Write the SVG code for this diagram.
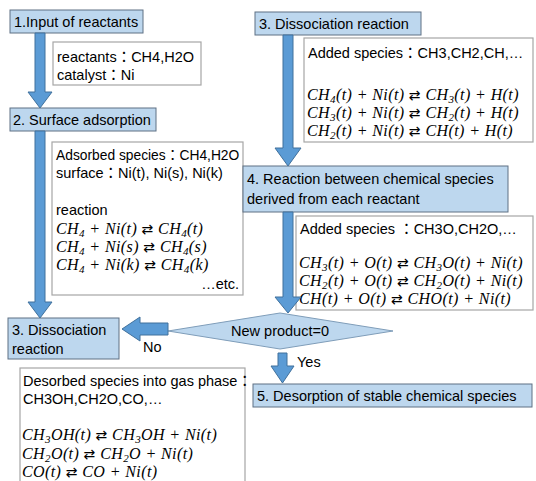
<svg xmlns="http://www.w3.org/2000/svg" width="536" height="481" viewBox="0 0 536 481">
<style>
.step{fill:#BDD7EE;stroke:#5F7184;stroke-width:1}
.info{fill:#FFFFFF;stroke:#A6A6A6;stroke-width:1.2}
.t{font-family:"Liberation Sans","Noto Sans CJK JP",sans-serif;font-size:14.5px;fill:#000}
.m{font-family:"Liberation Serif","DejaVu Serif",serif;font-style:italic;font-size:16px;letter-spacing:0.4px;fill:#000}
.s{font-size:11px}
.ar{font-family:"DejaVu Sans",sans-serif;font-style:normal;font-size:14px}
.arrow{fill:#5B9BD5;stroke:#41719C;stroke-width:1}
</style>
<rect width="536" height="481" fill="#FFFFFF"/>

<g id="step1">
<rect class="step" x="10" y="10" width="133" height="23"/>
<text class="t" x="14" y="27">1.Input of reactants</text>
</g>

<g id="info1">
<rect class="info" x="53" y="42" width="148" height="43"/>
<text class="t" x="57" y="62">reactants：CH4,H2O</text>
<text class="t" x="57" y="80">catalyst：Ni</text>
</g>

<g id="step2">
<rect class="step" x="10" y="108" width="146" height="23"/>
<text class="t" x="13" y="125">2. Surface adsorption</text>
</g>

<g id="info2">
<rect class="info" x="52" y="142" width="191" height="153"/>
<text class="t" x="56" y="160" style="font-size:13.8px">Adsorbed species：CH4,H2O</text>
<text class="t" x="56" y="178">surface：Ni(t), Ni(s), Ni(k)</text>
<text class="t" x="56" y="215">reaction</text>
<text class="m" x="56" y="234">CH<tspan class="s" dy="3">4</tspan><tspan dy="-3"> + Ni(t) </tspan><tspan class="ar">⇄</tspan> CH<tspan class="s" dy="3">4</tspan><tspan dy="-3">(t)</tspan></text>
<text class="m" x="56" y="252">CH<tspan class="s" dy="3">4</tspan><tspan dy="-3"> + Ni(s) </tspan><tspan class="ar">⇄</tspan> CH<tspan class="s" dy="3">4</tspan><tspan dy="-3">(s)</tspan></text>
<text class="m" x="56" y="270">CH<tspan class="s" dy="3">4</tspan><tspan dy="-3"> + Ni(k) </tspan><tspan class="ar">⇄</tspan> CH<tspan class="s" dy="3">4</tspan><tspan dy="-3">(k)</tspan></text>
<text class="t" x="239" y="289" text-anchor="end">…etc.</text>
</g>

<g id="step3a">
<rect class="step" x="255" y="12" width="166" height="23"/>
<text class="t" x="259" y="29">3. Dissociation reaction</text>
</g>

<g id="info3">
<rect class="info" x="304" y="38" width="229" height="104"/>
<text class="t" x="308" y="58">Added species：CH3,CH2,CH,…</text>
<text class="m" x="307" y="100">CH<tspan class="s" dy="3">4</tspan><tspan dy="-3">(t) + Ni(t) </tspan><tspan class="ar">⇄</tspan> CH<tspan class="s" dy="3">3</tspan><tspan dy="-3">(t) + H(t)</tspan></text>
<text class="m" x="307" y="118">CH<tspan class="s" dy="3">3</tspan><tspan dy="-3">(t) + Ni(t) </tspan><tspan class="ar">⇄</tspan> CH<tspan class="s" dy="3">2</tspan><tspan dy="-3">(t) + H(t)</tspan></text>
<text class="m" x="307" y="136">CH<tspan class="s" dy="3">2</tspan><tspan dy="-3">(t) + Ni(t) </tspan><tspan class="ar">⇄</tspan> CH(t) + H(t)</text>
</g>

<g id="step4">
<rect class="step" x="243" y="166" width="265" height="46"/>
<text class="t" x="247" y="184">4. Reaction between chemical species</text>
<text class="t" x="247" y="204">derived from each reactant</text>
</g>

<g id="info4">
<rect class="info" x="296" y="216" width="237" height="94"/>
<text class="t" x="300" y="234">Added species ：CH3O,CH2O,…</text>
<text class="m" x="299" y="268">CH<tspan class="s" dy="3">3</tspan><tspan dy="-3">(t) + O(t) </tspan><tspan class="ar">⇄</tspan> CH<tspan class="s" dy="3">3</tspan><tspan dy="-3">O(t) + Ni(t)</tspan></text>
<text class="m" x="299" y="286">CH<tspan class="s" dy="3">2</tspan><tspan dy="-3">(t) + O(t) </tspan><tspan class="ar">⇄</tspan> CH<tspan class="s" dy="3">2</tspan><tspan dy="-3">O(t) + Ni(t)</tspan></text>
<text class="m" x="299" y="304">CH(t) + O(t) <tspan class="ar">⇄</tspan> CHO(t) + Ni(t)</text>
</g>

<g id="decision">
<polygon points="168,331 280,313 393,331 280,349" fill="#BDD7EE" stroke="#7F9DB9" stroke-width="1"/>
<text class="t" x="280" y="336" text-anchor="middle">New product=0</text>
</g>

<g id="step3b">
<rect class="step" x="8" y="318" width="111" height="41"/>
<text class="t" x="12" y="335">3. Dissociation</text>
<text class="t" x="12" y="354">reaction</text>
</g>

<g id="step5">
<rect class="step" x="253" y="384" width="279" height="23"/>
<text class="t" x="257" y="401">5. Desorption of stable chemical species</text>
</g>

<g id="info5">
<rect class="info" x="20" y="368" width="225" height="125"/>
<text class="t" x="23" y="386">Desorbed species into gas phase：</text>
<text class="t" x="23" y="404">CH3OH,CH2O,CO,…</text>
<text class="m" x="22" y="440">CH<tspan class="s" dy="3">3</tspan><tspan dy="-3">OH(t) </tspan><tspan class="ar">⇄</tspan> CH<tspan class="s" dy="3">3</tspan><tspan dy="-3">OH + Ni(t)</tspan></text>
<text class="m" x="22" y="458.5">CH<tspan class="s" dy="3">2</tspan><tspan dy="-3">O(t) </tspan><tspan class="ar">⇄</tspan> CH<tspan class="s" dy="3">2</tspan><tspan dy="-3">O + Ni(t)</tspan></text>
<text class="m" x="22" y="477">CO(t) <tspan class="ar">⇄</tspan> CO + Ni(t)</text>
</g>

<g id="connectors">
<path class="arrow" d="M35,33 H45 V92 H52 L40,108 L28,92 H35 Z"/>
<path class="arrow" d="M35,131 H45 V302 H52 L40,318 L28,302 H35 Z"/>
<path class="arrow" d="M283,35 H293 V148 H301 L288,166 L275,148 H283 Z"/>
<path class="arrow" d="M283,212 H293 V297 H301 L288,313 L275,297 H283 Z"/>
<path class="arrow" d="M168,323 H140 V317 L122,329 L140,341 V335 H168 Z"/>
<path class="arrow" d="M278,353 H287 V366 H294 L282.5,383 L271,366 H278 Z"/>
<text class="t" x="143" y="352">No</text>
<text class="t" x="297" y="367">Yes</text>
</g>
</svg>
